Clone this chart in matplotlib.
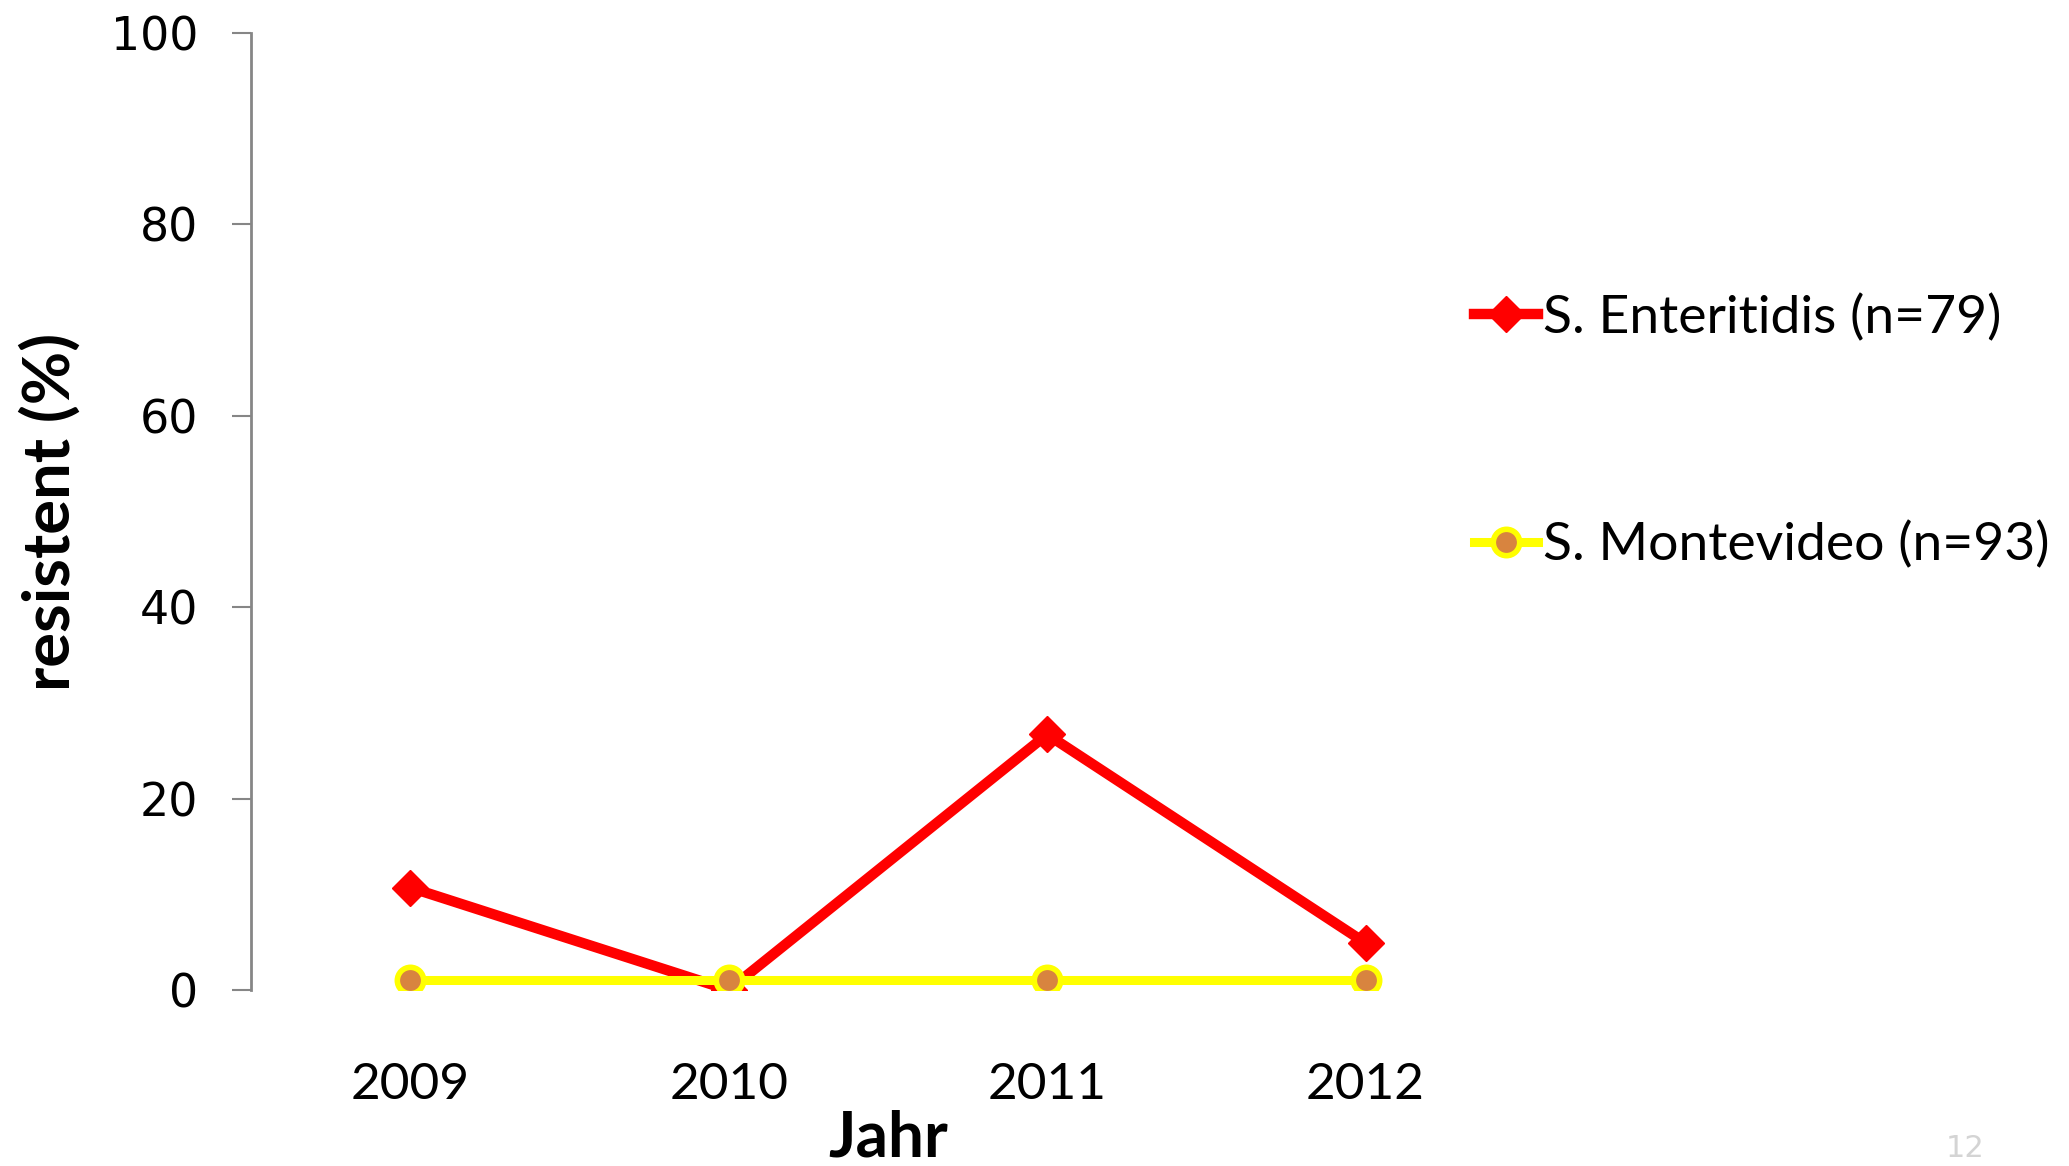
import matplotlib.pyplot as plt

# data
jahre = ["2009", "2010", "2011", "2012"]
enteritidis = [10.7, 0.0, 26.7, 4.9]
montevideo = [1.0, 1.0, 1.0, 1.0]
label_ent = "S. Enteritidis (n=79)"
label_mon = "S. Montevideo (n=93)"
y_ticks = [0, 20, 40, 60, 80, 100]

fig = plt.figure(figsize=(20.69, 11.66), dpi=100)
ax = fig.add_axes([0.1213, 0.151, 0.6157, 0.8207])

x = list(range(len(jahre)))
ax.plot(x, enteritidis, color="#FF0000", lw=7.5, marker="D", ms=18,
        mfc="#FF0000", mec="#FF0000", label=label_ent, zorder=3)
ax.plot(x, montevideo, color="#FFFF00", lw=6.5, marker="o", ms=19,
        mfc="#D8843F", mec="#FFFF00", mew=4, label=label_mon, zorder=4)

ax.set_xlim(-0.5, len(jahre) - 0.5)
ax.set_ylim(0, 100)
ax.set_xticks(x)
ax.set_xticklabels(jahre, fontfamily="Lato", fontsize=37)
ax.set_yticks(y_ticks)
ax.set_yticklabels([str(v) for v in y_ticks], fontfamily="DejaVu Sans", fontsize=33)
ax.tick_params(axis="x", length=0, pad=52)
ax.tick_params(axis="y", direction="out", length=14, width=1.5, color="#868686", pad=24)

for s in ["top", "right", "bottom"]:
    ax.spines[s].set_visible(False)
ax.spines["left"].set_color("#868686")
ax.spines["left"].set_linewidth(2)

ax.set_xlabel("Jahr", fontfamily="Lato", fontweight="bold", fontsize=46, labelpad=1)
ax.set_ylabel("resistent (%)", fontfamily="Lato", fontweight="bold", fontsize=47, labelpad=22)

leg = ax.legend(loc="upper left", bbox_to_anchor=(0.943, 0.75), frameon=False,
                prop={"family": "Lato", "size": 38.5}, handlelength=1.2,
                handletextpad=0.1, labelspacing=3.35, borderaxespad=0)

fig.text(0.95, 0.008, "12", fontsize=22, color="#d4d4d4", ha="center")

fig.savefig("out.png", dpi=100, facecolor="white")
